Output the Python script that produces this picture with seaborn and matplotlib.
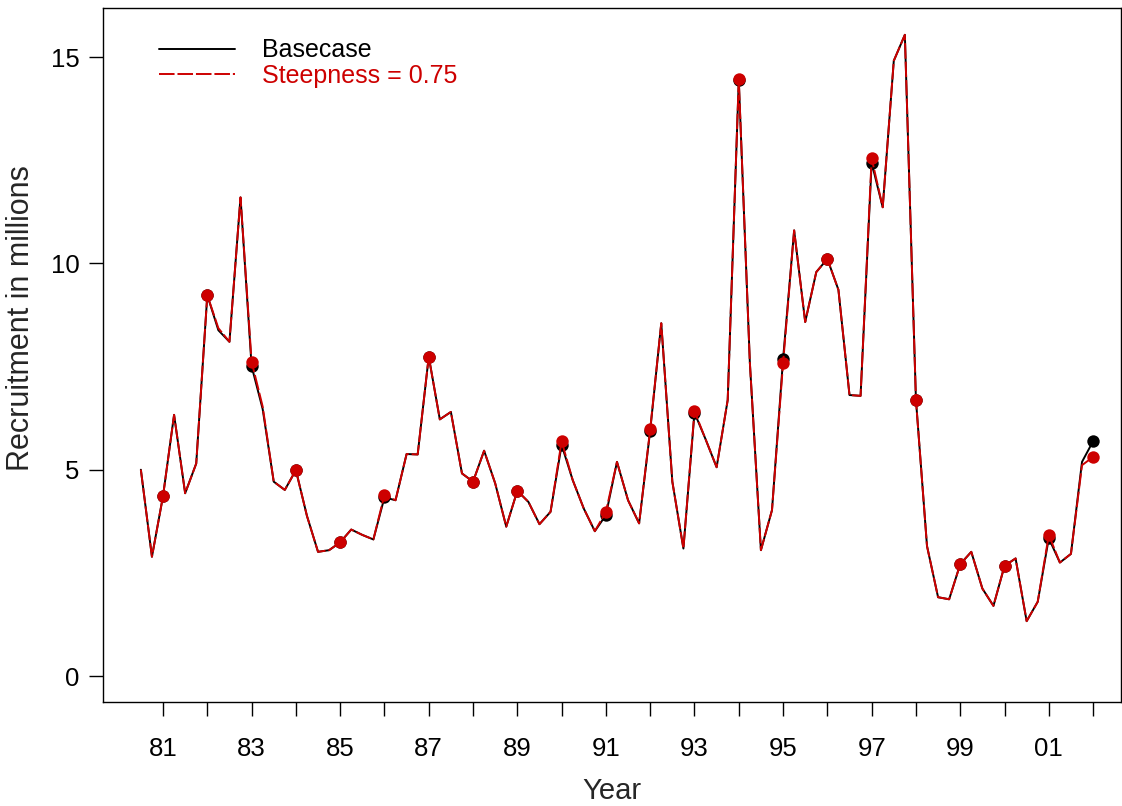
import numpy as np
import pandas as pd
import matplotlib
matplotlib.use("Agg")
import matplotlib.pyplot as plt
import seaborn as sns

# quarterly recruitment (millions), 1980.5 .. 2002.0
year_start = 1980.5
year_step = 0.25
basecase = [
    5.00, 2.89,
    4.36, 6.33, 4.43, 5.15,
    9.23, 8.38, 8.10, 11.60,
    7.51, 6.47, 4.71, 4.51,
    4.99, 3.88, 3.01, 3.05,
    3.24, 3.55, 3.42, 3.31,
    4.33, 4.26, 5.38, 5.37,
    7.74, 6.22, 6.40, 4.91,
    4.71, 5.46, 4.67, 3.62,
    4.49, 4.22, 3.68, 3.98,
    5.60, 4.75, 4.06, 3.51,
    3.90, 5.19, 4.26, 3.70,
    5.95, 8.55, 4.71, 3.09,
    6.38, 5.74, 5.06, 6.69,
    14.44, 7.60, 3.05, 4.02,
    7.68, 10.80, 8.58, 9.79,
    10.11, 9.36, 6.81, 6.79,
    12.44, 11.36, 14.91, 15.54,
    6.70, 3.15, 1.91, 1.86,
    2.71, 3.01, 2.12, 1.70,
    2.67, 2.85, 1.33, 1.80,
    3.34, 2.75, 2.96, 5.19,
    5.69,
]
steepness = [
    5.00, 2.89,
    4.36, 6.33, 4.43, 5.15,
    9.23, 8.43, 8.10, 11.60,
    7.62, 6.53, 4.71, 4.51,
    4.99, 3.88, 3.01, 3.05,
    3.24, 3.55, 3.42, 3.31,
    4.39, 4.26, 5.38, 5.37,
    7.74, 6.22, 6.40, 4.91,
    4.71, 5.46, 4.67, 3.62,
    4.49, 4.22, 3.68, 3.98,
    5.69, 4.75, 4.06, 3.51,
    3.98, 5.19, 4.26, 3.70,
    5.98, 8.55, 4.71, 3.09,
    6.42, 5.74, 5.06, 6.69,
    14.46, 7.60, 3.05, 4.02,
    7.58, 10.80, 8.58, 9.79,
    10.11, 9.36, 6.81, 6.79,
    12.55, 11.36, 14.91, 15.54,
    6.70, 3.15, 1.91, 1.86,
    2.71, 3.01, 2.12, 1.70,
    2.67, 2.85, 1.33, 1.80,
    3.42, 2.75, 2.96, 5.11,
    5.31,
]
tick_years = list(range(1981, 2003))
labels = ["Basecase", "Steepness = 0.75"]
red = "#CD0000"

years = year_start + year_step * np.arange(len(basecase))
df = pd.DataFrame({"year": years, "base": basecase, "steep": steepness})
annual = df[np.isclose(df["year"] % 1, 0)]

sns.set_style("ticks")
plt.rcParams["font.family"] = ["Liberation Sans", "DejaVu Sans"]

fig = plt.figure(figsize=(11.22, 8.06), dpi=100)
ax = fig.add_axes([0.0918, 0.1290, 0.9073, 0.8611])

# black base run first, red dashed run on top
sns.lineplot(x=df["year"], y=df["base"], color="black", lw=1.4, ax=ax,
             label=labels[0], zorder=2)
sns.scatterplot(x=annual["year"], y=annual["base"], color="black", s=80,
                linewidth=0, ax=ax, zorder=3)
sns.lineplot(x=df["year"], y=df["steep"], color=red, lw=1.4, ax=ax,
             linestyle=(0, (8, 1.5)), label=labels[1], zorder=4)
sns.scatterplot(x=annual["year"], y=annual["steep"], color=red, s=80,
                linewidth=0, ax=ax, zorder=5)

ax.set_xlim(1979.645, 2002.63)
ax.set_ylim(-0.63, 16.19)
ax.set_xticks(tick_years)
ax.set_xticklabels([f"{y % 100:02d}" if y % 2 == 1 else "" for y in tick_years])
ax.set_yticks([0, 5, 10, 15])
ax.tick_params(axis="x", length=10, width=1, pad=15, labelsize=18.5, colors="black")
ax.tick_params(axis="y", length=10, width=1, pad=7, labelsize=18.5, colors="black")
for s in ax.spines.values():
    s.set_visible(True)
    s.set_linewidth(1)
    s.set_color("black")

ax.set_xlabel("Year", fontsize=21, labelpad=12)
ax.set_ylabel("Recruitment in millions", fontsize=22)
ax.yaxis.set_label_coords(-0.066, 0.553)

ax.legend(loc="upper left", frameon=False, fontsize=18, handlelength=3.05,
          handletextpad=1.1, labelspacing=0.05, borderaxespad=0.4,
          bbox_to_anchor=(0.035, 0.985), labelcolor="linecolor")

fig.savefig("out.png", dpi=100)
